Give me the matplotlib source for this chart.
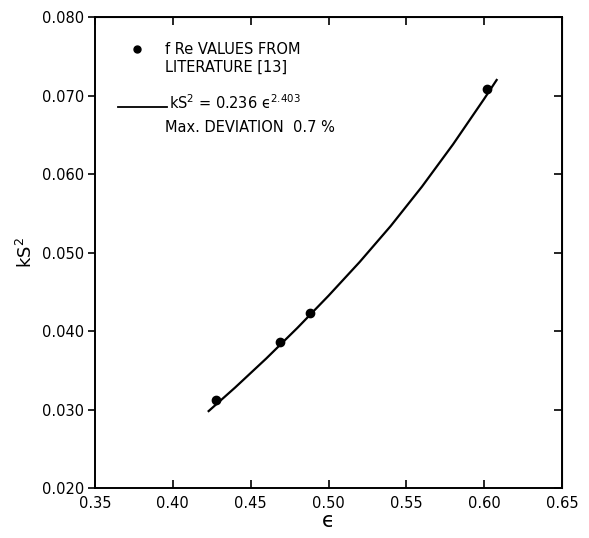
import numpy as np
import matplotlib
matplotlib.use('Agg')
import matplotlib.pyplot as plt

# data
eps_lit = [0.428, 0.469, 0.488, 0.602]
ks2_lit = [0.0312, 0.0386, 0.0423, 0.0709]

# fitted curve kS^2 = 0.236 eps^2.403
eps_fit = [0.423, 0.44, 0.46, 0.48, 0.50, 0.52, 0.54, 0.56, 0.58, 0.60, 0.608]
ks2_fit = [0.0298, 0.0328, 0.0365, 0.0404, 0.0445, 0.0488, 0.0534, 0.0584, 0.0638, 0.0696, 0.0720]

xticks = [0.35, 0.40, 0.45, 0.50, 0.55, 0.60, 0.65]
yticks = [0.020, 0.030, 0.040, 0.050, 0.060, 0.070, 0.080]

plt.rcParams['font.family'] = ['DejaVu Sans']
fnt = 10.5

fig = plt.figure(figsize=(5.89, 5.38), dpi=100)
ax = fig.add_axes([0.1613, 0.093, 0.7929, 0.875])

ax.plot(eps_fit, ks2_fit, color='black', lw=1.6, solid_joinstyle='round')
ax.plot(eps_lit, ks2_lit, 'o', color='black', ms=6)

ax.set_xlim(0.35, 0.65)
ax.set_ylim(0.020, 0.080)
ax.set_xticks(xticks)
ax.set_yticks(yticks)
ax.set_xticklabels(['%.2f' % v for v in xticks], fontsize=fnt)
ax.set_yticklabels(['%.3f' % v for v in yticks], fontsize=fnt)
ax.tick_params(axis='x', direction='in', length=6, width=1.2, pad=6)
ax.tick_params(axis='y', direction='out', length=5, width=1.2, pad=3)
for s in ax.spines.values():
    s.set_linewidth(1.4)

top = ax.secondary_xaxis('top')
top.set_xticks(xticks)
top.tick_params(direction='in', length=6, width=1.2, labeltop=False)
right = ax.secondary_yaxis('right')
right.set_yticks(yticks)
right.tick_params(direction='in', length=6, width=1.2, labelright=False)

ax.set_xlabel('ϵ', fontsize=15, labelpad=0)
ax.set_ylabel('kS$^2$', fontsize=13, labelpad=4)

# legend drawn as in the original
ax.plot([0.3770], [0.0759], 'o', color='black', ms=5)
ax.text(0.3950, 0.0759, 'f Re VALUES FROM', fontsize=fnt, va='center')
ax.text(0.3950, 0.0736, 'LITERATURE [13]', fontsize=fnt, va='center')
ax.plot([0.3648, 0.3965], [0.0686, 0.0686], color='black', lw=1.3)
ax.text(0.3975, 0.0691, 'kS$^2$ = 0.236 ϵ$^{2.403}$', fontsize=fnt, va='center')
ax.text(0.3950, 0.0659, 'Max. DEVIATION  0.7 %', fontsize=fnt, va='center')

fig.savefig('out.png', dpi=100)
